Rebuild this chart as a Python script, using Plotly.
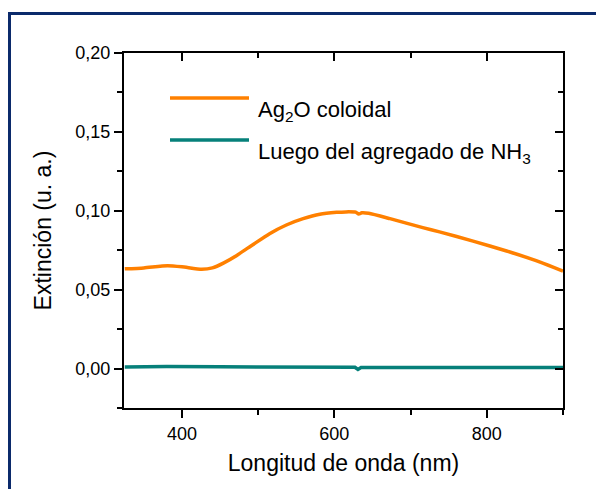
import plotly.graph_objects as go

# ---- data ----
wl_ag2o = [325, 350, 381, 400, 426, 440, 455, 472, 493, 515, 537, 559, 581, 603, 615,
           628, 632, 636, 645, 673, 716, 738, 782, 826, 870, 900]
ext_ag2o = [0.0632, 0.0638, 0.0652, 0.0645, 0.0629, 0.0638, 0.0670, 0.0717, 0.0785, 0.0855,
            0.0910, 0.0950, 0.0978, 0.0990, 0.0993, 0.0991, 0.0979, 0.0987, 0.0984, 0.0950,
            0.0893, 0.0866, 0.0808, 0.0745, 0.0675, 0.0618]

wl_nh3 = [325, 380, 450, 500, 550, 600, 627, 631, 635, 700, 800, 850, 900]
ext_nh3 = [0.0010, 0.0013, 0.0011, 0.0010, 0.0009, 0.0008, 0.0008, -0.0006, 0.0006,
           0.0007, 0.0007, 0.0007, 0.0006]

legend_labels = ["Ag<sub>2</sub>O coloidal", "Luego del agregado de NH<sub>3</sub>"]
x_title = "Longitud de onda (nm)"
y_title = "Extinción (u. a.)"
y_tickvals = [0.0, 0.05, 0.10, 0.15, 0.20]
y_ticktext = ["0,00", "0,05", "0,10", "0,15", "0,20"]
x_tickvals = [400, 600, 800]

ORANGE = "#FF8000"
TEAL = "#06807A"
FRAME = "#0B2A6B"
FONT = "Liberation Sans, Arial, sans-serif"

W, H = 596, 489
ML, MR, MT, MB = 124, 33, 53, 81
PW, PH = W - ML - MR, H - MT - MB


def px_x(px):
    return (px - ML) / PW


def px_y(py):
    return (H - MB - py) / PH


fig = go.Figure()
fig.add_trace(go.Scatter(x=wl_ag2o, y=ext_ag2o, mode="lines",
                         line=dict(color=ORANGE, width=3.5, shape="spline", smoothing=0.6),
                         showlegend=False))
fig.add_trace(go.Scatter(x=wl_nh3, y=ext_nh3, mode="lines",
                         line=dict(color=TEAL, width=3.5), showlegend=False))
# invisible trace so the mirrored (top/right) axes are drawn
fig.add_trace(go.Scatter(x=wl_ag2o, y=ext_ag2o, mode="lines", xaxis="x2", yaxis="y2",
                         opacity=0, hoverinfo="skip", showlegend=False))

xr = [324, 900]
yr = [-0.025, 0.20]
minor_y = [-0.025, 0.025, 0.075, 0.125, 0.175]
axis_common = dict(showgrid=False, zeroline=False, showline=True, linecolor="black",
                   linewidth=2.2, tickcolor="black", tickwidth=2)

fig.update_layout(
    width=W, height=H,
    margin=dict(l=ML, r=MR, t=MT, b=MB),
    paper_bgcolor="white", plot_bgcolor="white",
    font=dict(family=FONT, color="black"),
    xaxis=dict(range=xr, tickvals=x_tickvals, ticks="outside", ticklen=8,
               tickfont=dict(size=18), title=dict(text=x_title, font=dict(size=23), standoff=12),
               minor=dict(dtick=100, tick0=0, ticks="outside", ticklen=5, tickwidth=2, tickcolor="black"),
               **axis_common),
    yaxis=dict(range=yr, tickvals=y_tickvals, ticktext=y_ticktext, ticks="outside", ticklen=8,
               tickfont=dict(size=18), title=dict(text=y_title, font=dict(size=23), standoff=17),
               minor=dict(tickvals=minor_y, ticks="outside",
                          ticklen=5, tickwidth=2, tickcolor="black"),
               **axis_common),
    xaxis2=dict(range=xr, overlaying="x", side="top", anchor="y2", tickvals=x_tickvals,
                ticks="inside", ticklen=8, showticklabels=False,
                minor=dict(dtick=100, tick0=0, ticks="inside", ticklen=5, tickwidth=2, tickcolor="black"),
                **axis_common),
    yaxis2=dict(range=yr, overlaying="y", side="right", anchor="x2", tickvals=y_tickvals,
                ticks="inside", ticklen=8, showticklabels=False,
                minor=dict(tickvals=minor_y, ticks="inside",
                           ticklen=5, tickwidth=2, tickcolor="black"),
                **axis_common),
)

# legend drawn Origin-style: line above, text below-right
leg_colors = [ORANGE, TEAL]
leg_line_y = [98, 140]
leg_text_y = [111, 153]
for lab, col, ly, ty in zip(legend_labels, leg_colors, leg_line_y, leg_text_y):
    fig.add_shape(type="line", xref="paper", yref="paper",
                  x0=px_x(170), x1=px_x(249), y0=px_y(ly), y1=px_y(ly),
                  line=dict(color=col, width=3.5))
    fig.add_annotation(xref="paper", yref="paper", x=px_x(256), y=px_y(ty),
                       xanchor="left", yanchor="middle", text=lab, showarrow=False,
                       font=dict(size=22, color="black"))

# dark blue frame (left and top edges)
fig.add_shape(type="line", xref="paper", yref="paper", x0=px_x(9.5), x1=px_x(9.5),
              y0=px_y(12), y1=px_y(H + 2), line=dict(color=FRAME, width=3))
fig.add_shape(type="line", xref="paper", yref="paper", x0=px_x(8), x1=px_x(W + 2),
              y0=px_y(13.5), y1=px_y(13.5), line=dict(color=FRAME, width=3))

fig.write_html("out.html")
